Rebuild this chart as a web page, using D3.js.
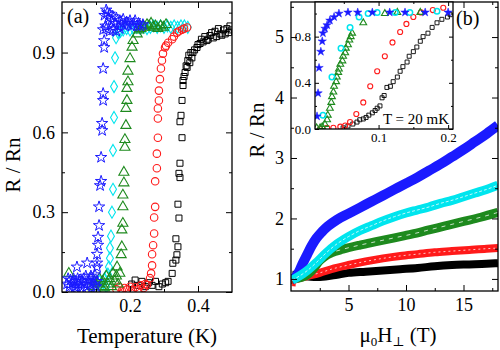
<!DOCTYPE html>
<html><head><meta charset="utf-8">
<script src="https://cdn.jsdelivr.net/npm/d3@7"></script>
<style>body{margin:0;background:#fff}svg{display:block}svg text{font-family:"Liberation Serif","Times New Roman","DejaVu Serif",serif !important}</style>
</head><body>
<svg id="c" width="500" height="350"></svg>
<script>
// ---------- Panel (a): R/Rn vs Temperature (K) ----------
const aXTicks = [0.2, 0.4], aXMinor = [0.1, 0.3];
const aYTicks = [0, 0.3, 0.6, 0.9], aYMinor = [0.15, 0.45, 0.75, 1.05];
const blueA = [[0.015,0.03],[0.018,0.05],[0.022,0.02],[0.025,0.045],[0.028,0.01],[0.031,0.035],[0.034,0.05],[0.037,0.02],[0.040,0.04],[0.043,0.015],[0.044,0.094],[0.046,0.05],[0.049,0.03],[0.052,0.045],[0.055,0.02],[0.058,0.04],[0.061,0.01],[0.064,0.05],[0.067,0.03],[0.070,0.06],[0.073,0.02],[0.074,0.109],[0.079,0.045],[0.082,0.03],[0.085,0.06],[0.088,0.015],[0.091,0.05],[0.094,0.03],[0.097,0.065],[0.100,0.02],[0.102,0.04],
 [0.103,0.094],[0.103,0.109],[0.103,0.142],[0.106,0.176],[0.106,0.206],[0.109,0.25],[0.109,0.32],[0.112,0.40],[0.115,0.416],[0.115,0.506],[0.118,0.607],[0.118,0.634],[0.121,0.72],[0.121,0.746],[0.121,0.84],[0.124,0.919],[0.124,0.945],[0.121,0.986],
 [0.125,1.04],[0.13,1.06],[0.133,1.05],[0.136,1.03],[0.14,1.045],[0.145,1.02],[0.15,1.035],[0.155,1.01],[0.16,1.03],[0.165,1.0],[0.17,1.02],[0.175,1.01],[0.18,1.025],[0.185,1.0],[0.19,1.015],[0.195,1.005],[0.2,1.02],[0.205,1.0],[0.21,1.01],[0.215,1.02],[0.22,1.0],[0.225,1.01],[0.23,1.0],[0.238,1.005],[0.13,0.99],[0.14,0.98],[0.15,0.985],[0.16,0.98],[0.17,0.99],[0.128,1.0]];
const cyanA = [[0.11,0.04],[0.12,0.03],[0.125,0.05],[0.13,0.02],[0.135,0.067],[0.138,0.094],[0.141,0.127],[0.141,0.165],[0.144,0.21],[0.147,0.30],[0.15,0.386],[0.15,0.532],[0.153,0.656],[0.153,0.772],[0.156,0.88],[0.159,0.956],
 [0.165,0.975],[0.172,0.98],[0.18,0.985],[0.19,0.99],[0.2,0.985],[0.21,0.99],[0.22,0.995],[0.23,0.99],[0.24,0.995],[0.25,0.99],[0.26,0.995],[0.27,1.0],[0.28,0.995],[0.29,1.0],[0.3,0.995],[0.31,1.0],[0.32,0.995],[0.33,1.0],[0.34,0.995],[0.35,1.0],[0.36,1.0],[0.37,0.995]];
const greenA = [[0.02,0.07],[0.09,0.02],[0.095,0.04],[0.10,0.01],[0.105,0.03],[0.11,0.05],[0.115,0.02],[0.12,0.04],[0.125,0.015],[0.13,0.06],[0.135,0.03],[0.14,0.05],[0.145,0.02],[0.15,0.07],[0.155,0.04],[0.16,0.06],[0.165,0.03],[0.17,0.07],
 [0.162,0.094],[0.174,0.14],[0.176,0.17],[0.176,0.233],[0.179,0.258],[0.179,0.32],[0.179,0.364],[0.182,0.41],[0.182,0.45],[0.185,0.544],[0.185,0.573],[0.188,0.626],[0.188,0.69],[0.191,0.72],[0.191,0.765],[0.194,0.79],[0.194,0.83],[0.2,0.877],[0.206,0.92],[0.209,0.945],[0.221,0.97],
 [0.226,0.985],[0.232,0.99],[0.238,1.0],[0.244,0.995],[0.25,1.005],[0.256,1.0],[0.262,1.01],[0.268,0.995],[0.275,1.0],[0.282,0.99],[0.29,1.0],[0.298,0.995],[0.306,1.005]];
const redA = [[0.16,0.01],[0.168,0.02],[0.176,0.005],[0.184,0.015],[0.192,0.01],[0.2,0.02],[0.208,0.008],[0.216,0.018],[0.224,0.01],[0.232,0.025],[0.24,0.015],[0.245,0.03],
 [0.25,0.026],[0.259,0.052],[0.262,0.07],[0.265,0.10],[0.265,0.142],[0.268,0.176],[0.271,0.22],[0.271,0.28],[0.274,0.32],[0.274,0.416],[0.279,0.465],[0.279,0.52],[0.282,0.58],[0.282,0.652],[0.282,0.69],[0.285,0.72],[0.285,0.757],[0.288,0.80],[0.291,0.84],[0.294,0.87],[0.297,0.896],[0.303,0.919],[0.306,0.926],[0.312,0.937],[0.324,0.95],[0.329,0.96],[0.338,0.975],[0.344,0.98],[0.353,0.986],[0.359,0.99],[0.368,0.994]];
const blackA = [[0.205,0.03],[0.215,0.045],[0.225,0.025],[0.235,0.04],[0.245,0.02],[0.255,0.035],[0.265,0.025],[0.275,0.04],[0.285,0.02],[0.295,0.03],[0.305,0.035],
 [0.312,0.04],[0.324,0.07],[0.326,0.108],[0.335,0.12],[0.338,0.14],[0.341,0.17],[0.335,0.20],[0.344,0.278],[0.341,0.33],[0.347,0.43],[0.344,0.446],[0.347,0.484],[0.353,0.58],[0.347,0.64],[0.35,0.664],[0.353,0.72],[0.356,0.776],[0.356,0.795],[0.359,0.81],[0.362,0.825],[0.365,0.85],[0.368,0.844],[0.37,0.87],[0.373,0.89],[0.376,0.862],[0.379,0.9],[0.382,0.88],[0.385,0.9],[0.39,0.91],[0.397,0.919],[0.4,0.93],[0.406,0.934],[0.41,0.95],[0.415,0.94],[0.42,0.96],[0.426,0.945],[0.43,0.95],[0.435,0.964],[0.44,0.975],[0.445,0.955],[0.45,0.98],[0.455,0.96],[0.46,0.99],[0.465,0.97],[0.47,0.965],[0.475,0.985],[0.48,0.97],[0.485,0.99],[0.49,0.975],[0.494,1.0],[0.498,0.985]];

// ---------- Panel (b): R/Rn vs field (T) ----------
const bXTicks = [5, 10, 15], bXMinor = [2.5, 7.5, 12.5, 17.5];
const bYTicks = [1, 2, 3, 4, 5], bYMinor = [1.5, 2.5, 3.5, 4.5, 5.5];
const blueB = [[0.1,1.0],[0.4,1.03],[0.7,1.12],[1.0,1.25],[1.4,1.4],[1.8,1.55],[2.2,1.67],[2.7,1.78],[3.2,1.87],[4.0,1.98],[5.0,2.08],[6.0,2.18],[7.0,2.28],[8.0,2.38],[9.0,2.48],[10.0,2.58],[11.0,2.68],[12.0,2.79],[13.0,2.9],[14.0,3.02],[15.0,3.14],[16.0,3.27],[17.0,3.4],[18.0,3.54]];
const cyanB = [[0.1,0.98],[1.0,1.08],[1.5,1.15],[2.2,1.27],[3.0,1.42],[4.0,1.58],[5.0,1.70],[6.0,1.80],[7.0,1.88],[8.0,1.96],[9.0,2.03],[10.0,2.09],[11.0,2.14],[12.0,2.19],[13.0,2.25],[14.0,2.3],[15.0,2.36],[16.0,2.42],[17.0,2.48],[18.0,2.55]];
const greenB = [[0.1,1.0],[1.0,1.03],[1.5,1.08],[2.0,1.18],[2.5,1.3],[3.0,1.38],[3.5,1.43],[4.5,1.49],[6.0,1.56],[7.5,1.62],[9.0,1.68],[10.5,1.74],[12.0,1.81],[13.5,1.88],[15.0,1.95],[16.5,2.02],[18.0,2.1]];
const redB = [[0.05,0.88],[0.1,0.97],[0.5,1.0],[1.5,1.05],[2.5,1.1],[3.5,1.16],[5.0,1.23],[6.5,1.29],[8.0,1.34],[9.5,1.38],[11.0,1.41],[12.5,1.44],[14.0,1.46],[15.5,1.48],[17.0,1.5],[18.0,1.51]];
const blackB = [[0.1,1.07],[1.0,1.05],[2.0,1.03],[3.0,1.04],[4.0,1.07],[5.0,1.1],[6.5,1.12],[8.0,1.14],[9.5,1.16],[11.0,1.18],[12.5,1.21],[14.0,1.23],[15.5,1.24],[17.0,1.25],[18.0,1.26]];

// ---------- Inset: R/Rn vs field (T) at T = 20 mK ----------
const iXTicks = [0.1, 0.2], iXMinor = [0.05, 0.15];
const iYTicks = [0, 0.4, 0.8], iYMinor = [0.2, 0.6, 1.0];
const blueI = [[0.0115,0.11],[0.013,0.31],[0.0144,0.53],[0.017,0.67],[0.019,0.76],[0.020,0.83],[0.023,0.87],[0.026,0.90],[0.030,0.94],[0.036,0.97],[0.043,1.0],[0.056,1.01],[0.070,1.01],[0.091,1.01],[0.116,1.01],[0.138,1.01],[0.167,1.01],[0.20,1.01]];
const cyanI = [[0.020,0.12],[0.033,0.45],[0.046,0.70],[0.059,0.88],[0.072,0.97],[0.085,1.0],[0.098,1.01],[0.124,1.01],[0.145,1.01],[0.184,1.02]];
const greenI = [[0.011,0.01],[0.016,0.01],[0.019,0.02],[0.023,0.04],[0.026,0.08],[0.027,0.12],[0.030,0.18],[0.032,0.23],[0.033,0.28],[0.035,0.32],[0.036,0.37],[0.039,0.41],[0.040,0.45],[0.042,0.49],[0.043,0.52],[0.045,0.56],[0.048,0.59],[0.049,0.63],[0.052,0.66],[0.053,0.70],[0.056,0.73],[0.058,0.77],[0.060,0.80],[0.062,0.83],[0.078,0.92],[0.109,1.0],[0.127,1.01],[0.16,1.01]];
const redI = [[0.016,0.0],[0.026,0.01],[0.035,0.01],[0.045,0.02],[0.052,0.03],[0.059,0.06],[0.068,0.13],[0.078,0.23],[0.088,0.37],[0.098,0.50],[0.109,0.63],[0.12,0.75],[0.131,0.84],[0.14,0.91],[0.15,0.97],[0.161,1.01],[0.178,1.03],[0.193,1.05]];
const blackI = [[0.049,0.01],[0.056,0.026],[0.063,0.043],[0.069,0.06],[0.073,0.08],[0.078,0.087],[0.082,0.10],[0.086,0.12],[0.091,0.14],[0.095,0.16],[0.098,0.18],[0.102,0.20],[0.105,0.27],[0.108,0.29],[0.112,0.36],[0.117,0.37],[0.121,0.41],[0.127,0.45],[0.131,0.50],[0.135,0.54],[0.141,0.58],[0.144,0.63],[0.150,0.67],[0.155,0.71],[0.160,0.76],[0.164,0.80],[0.171,0.83],[0.177,0.88],[0.184,0.92],[0.191,0.95],[0.199,0.97],[0.203,0.99]];

const COL = {blue:"#1a1aff", cyan:"#00e5ee", green:"#1e8a1e", red:"#ff1a1a", black:"#000"};
const FONT = "Liberation Serif";
const svg = d3.select("#c");

function frame(x, y, o) {
  const g = svg.append("g");
  const [x0, x1] = x.range(), [y0, y1] = y.range();
  const ax = (axisFn, scale, ticks, len, fmt, tr) => {
    const a = g.append("g").attr("transform", tr)
      .call(axisFn(scale).tickValues(ticks).tickSize(-len).tickPadding(o.pad || 4)
        .tickFormat(fmt ? fmt : () => ""));
    a.attr("font-family", FONT).attr("font-size", o.fs);
    a.select(".domain").remove();
    a.selectAll("line").attr("stroke", "#000").attr("stroke-width", 1);
    a.selectAll("text").attr("fill", "#000");
    return a;
  };
  ax(d3.axisBottom, x, o.xt, o.maj, o.xf, `translate(0,${y0})`);
  ax(d3.axisBottom, x, o.xm, o.min, null, `translate(0,${y0})`);
  ax(d3.axisTop, x, o.xt, o.maj, null, `translate(0,${y1})`);
  ax(d3.axisTop, x, o.xm, o.min, null, `translate(0,${y1})`);
  ax(d3.axisLeft, y, o.yt, o.maj, o.yf, `translate(${x0},0)`);
  ax(d3.axisLeft, y, o.ym, o.min, null, `translate(${x0},0)`);
  ax(d3.axisRight, y, o.yt, o.maj, null, `translate(${x1},0)`);
  ax(d3.axisRight, y, o.ym, o.min, null, `translate(${x1},0)`);
  g.append("rect").attr("x", x0).attr("y", y1).attr("width", x1 - x0).attr("height", y0 - y1)
    .attr("fill", "none").attr("stroke", "#000").attr("stroke-width", 1.3);
  return g;
}

function pts(g, data, x, y, type, size, color, filled, sw) {
  const sym = d3.symbol().type(type).size(size);
  g.selectAll(null).data(data).join("path")
    .attr("d", sym)
    .attr("transform", d => `translate(${x(d[0])},${y(d[1])})`)
    .attr("fill", filled ? color : "none")
    .attr("stroke", color).attr("stroke-width", sw || 1.2);
}
function label(x, y, size, txt, anchor, rot) {
  const t = svg.append("text").attr("font-family", FONT).attr("font-size", size).attr("fill", "#000")
    .attr("text-anchor", anchor || "start");
  if (rot) t.attr("transform", `translate(${x},${y}) rotate(${rot})`); else t.attr("x", x).attr("y", y);
  if (txt) t.text(txt);
  return t;
}

// ======== Panel (a) ========
const xA = d3.scaleLinear([0, 0.5], [62, 232]);
const yA = d3.scaleLinear([0, 1.09], [292, 2]);
svg.append("clipPath").attr("id", "ca").append("rect").attr("x", 62).attr("y", 2).attr("width", 170).attr("height", 290);
const gA = svg.append("g").attr("clip-path", "url(#ca)");
pts(gA, cyanA, xA, yA, d3.symbolDiamond, 42, COL.cyan, false, 1.1);
pts(gA, blackA, xA, yA, d3.symbolSquare, 36, COL.black, false, 1.0);
pts(gA, redA, xA, yA, d3.symbolCircle, 44, COL.red, false, 1.1);
pts(gA, greenA, xA, yA, d3.symbolTriangle, 44, COL.green, false, 1.1);
pts(gA, blueA, xA, yA, d3.symbolStar, 40, COL.blue, false, 1.0);
frame(xA, yA, {xt: aXTicks, xm: aXMinor, yt: aYTicks, ym: aYMinor, maj: 6, min: 3, fs: 18, pad: 7,
  xf: d3.format(".1f"), yf: d3.format(".1f")});

label(147, 343, 21, "Temperature (K)", "middle");
label(20, 165, 21, "R / Rn", "middle", -90);
label(67, 23, 20, "(a)");

// ======== Panel (b) ========
const xB = d3.scaleLinear([0, 18], [291, 498]);
const yB = d3.scaleLinear([0.8, 5.58], [291, 2]);
svg.append("clipPath").attr("id", "cb").append("rect").attr("x", 291).attr("y", 2).attr("width", 207).attr("height", 289);
const gB = svg.append("g").attr("clip-path", "url(#cb)");
const line = d3.line().x(d => xB(d[0])).y(d => yB(d[1])).curve(d3.curveMonotoneX);
const bands = [[blackB, COL.black, 8, null], [redB, COL.red, 8, "2,3"], [greenB, COL.green, 9, "4,5"], [blueB, COL.blue, 10, null], [cyanB, COL.cyan, 9, "3,2"]];
bands.forEach(([d, c, w, dash]) => {
  gB.append("path").attr("d", line(d)).attr("fill", "none").attr("stroke", c).attr("stroke-width", w).attr("stroke-linecap", "butt");
  if (dash) gB.append("path").attr("d", line(d)).attr("fill", "none").attr("stroke", "#fff").attr("stroke-opacity", 0.75)
    .attr("stroke-width", 1).attr("stroke-dasharray", dash);
});
frame(xB, yB, {xt: bXTicks, xm: bXMinor, yt: bYTicks, ym: bYMinor, maj: 6, min: 3, fs: 18, pad: 7,
  xf: d3.format("d"), yf: d3.format("d")});

const xt = label(398, 342, 21, null, "middle");
xt.append("tspan").text("μ");
xt.append("tspan").attr("font-size", 13).attr("dy", 4).text("0");
xt.append("tspan").attr("dy", -4).text("H");
xt.append("tspan").attr("font-size", 13).attr("dy", 4).text("⊥");
xt.append("tspan").attr("dy", -4).text(" (T)");
label(264, 130, 21, "R / Rn", "middle", -90);
label(456, 25, 20, "(b)");

// ======== Inset ========
const xI = d3.scaleLinear([0.0086, 0.207], [315, 453]);
const yI = d3.scaleLinear([0, 1.1], [129, 2]);
svg.append("rect").attr("x", 315).attr("y", 2).attr("width", 138).attr("height", 127).attr("fill", "#fff");
svg.append("clipPath").attr("id", "ci").append("rect").attr("x", 315).attr("y", 2).attr("width", 138).attr("height", 127);
const gI = svg.append("g").attr("clip-path", "url(#ci)");
pts(gI, blackI, xI, yI, d3.symbolSquare, 16, COL.black, false, 0.9);
pts(gI, redI, xI, yI, d3.symbolCircle, 20, COL.red, false, 1.1);
pts(gI, greenI, xI, yI, d3.symbolTriangle, 20, COL.green, false, 1.1);
pts(gI, cyanI, xI, yI, d3.symbolCircle, 24, COL.cyan, false, 1.5);
pts(gI, blueI, xI, yI, d3.symbolStar, 22, COL.blue, true, 0.5);
frame(xI, yI, {xt: iXTicks, xm: iXMinor, yt: iYTicks, ym: iYMinor, maj: 4, min: 2, fs: 13, pad: 4,
  xf: d3.format(".1f"), yf: d3.format(".1f")});
label(449, 124, 15, "T = 20 mK", "end");
</script>
</body></html>
